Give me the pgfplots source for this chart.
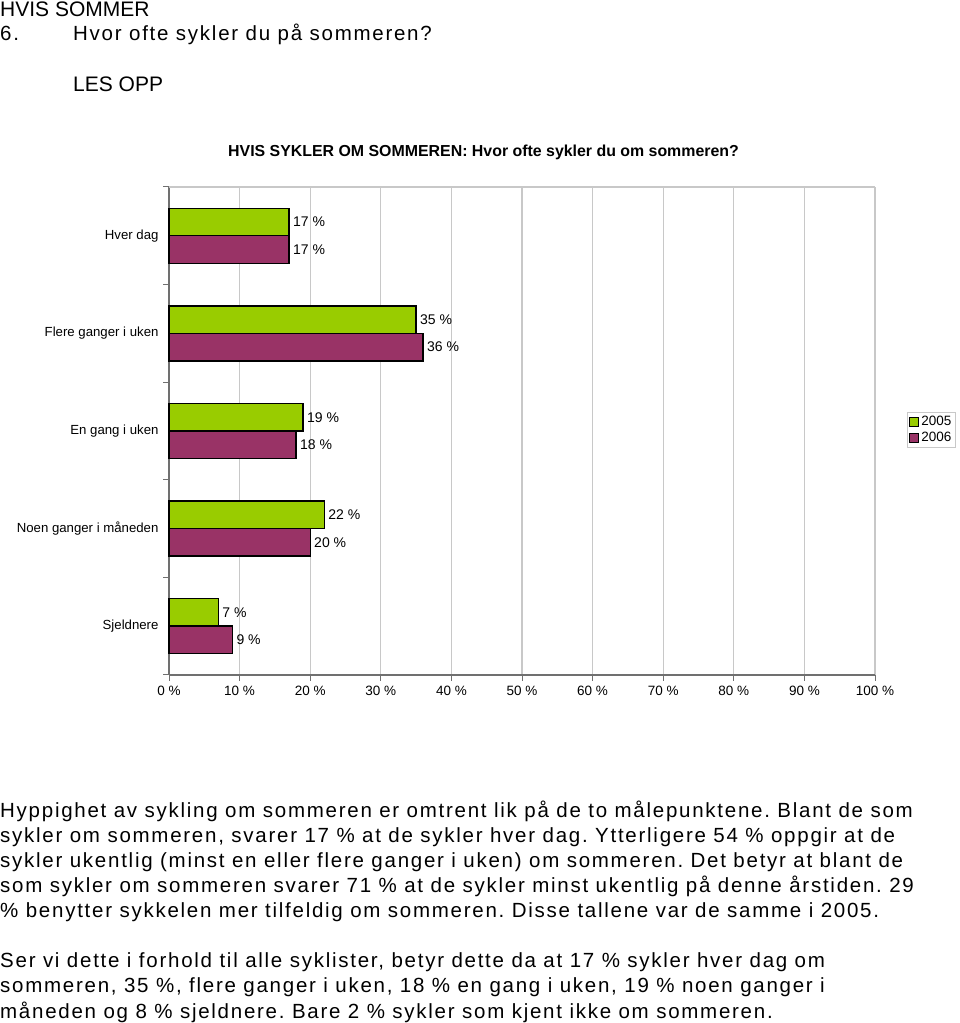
\documentclass[border=0pt]{standalone}
\usepackage{fontspec}
\setmainfont{Liberation Sans}
\newfontfamily\spaced[LetterSpace=8.5]{Liberation Sans}
\usepackage{pgfplots}
\pgfplotsset{compat=1.18}
\definecolor{grn}{HTML}{99CC00}
\definecolor{mar}{HTML}{993366}
\definecolor{axgray}{HTML}{707070}
\definecolor{gridgray}{HTML}{C8C8C8}
\frenchspacing

\begin{document}
\begin{tikzpicture}[x=1pt,y=1pt]
\useasboundingbox (0,0) rectangle (960,1023);

% header
\node[anchor=base west,inner sep=0] at (0,1006) {\fontsize{21}{24}\selectfont HVIS SOMMER};
\node[anchor=base west,inner sep=0] at (0,982) {\fontsize{20.5}{24}\spaced 6.};
\node[anchor=base west,inner sep=0] at (73,982) {\fontsize{20.5}{24}\spaced Hvor ofte sykler du på sommeren?};
\node[anchor=base west,inner sep=0] at (73,931) {\fontsize{21}{24}\selectfont LES OPP};
\node[anchor=base,inner sep=0] at (483.5,866) {\fontsize{15.9}{18}\selectfont\bfseries HVIS SYKLER OM SOMMEREN: Hvor ofte sykler du om sommeren?};

\begin{axis}[
  at={(169pt,348pt)}, anchor=south west,
  scale only axis, width=706pt, height=488pt,
  xbar, bar width=27.5pt,
  xmin=0, xmax=100, ymin=-0.5, ymax=4.5,
  axis x line*=bottom, axis y line*=left,
  axis line style={axgray, line width=1.3pt, -},
  /pgf/number format/assume math mode=true,
  xtick={0,10,...,100},
  xticklabels={0 \%,10 \%,20 \%,30 \%,40 \%,50 \%,60 \%,70 \%,80 \%,90 \%,100 \%},
  ytick={-0.5,0.5,1.5,2.5,3.5,4.5},
  y tick label as interval,
  yticklabels={Sjeldnere,Noen ganger i måneden,En gang i uken,Flere ganger i uken,Hver dag},
  xticklabel style={font=\fontsize{13.5}{16}\selectfont, yshift=-2pt},
  yticklabel style={font=\fontsize{13.2}{16}\selectfont, xshift=-1pt},
  tick style={axgray, line width=1pt},
  tick align=outside, major tick length=6pt,
  xmajorgrids, grid style={gridgray, line width=1.2pt},
  nodes near coords={\pgfmathprintnumber{\pgfplotspointmeta}\ \%},
  point meta=x,
  every node near coord/.append style={font=\fontsize{14}{16}\selectfont, black},
  legend style={at={(1.045,0.539)}, anchor=north west, draw=gridgray, line width=1pt,
    font=\fontsize{13.5}{16}\selectfont, inner sep=2pt, row sep=1pt,
    cells={anchor=west}},
  legend image code/.code={\draw[#1, draw=black, line width=1pt] (0pt,-4.5pt) rectangle (9pt,4.5pt);},
  clip=false,
]
\addplot[fill=grn, draw=black, line width=1.4pt, bar shift=13.75pt]
  coordinates {(17,4) (35,3) (19,2) (22,1) (7,0)};
\addlegendentry{2005}
\addplot[fill=mar, draw=black, line width=1.4pt, bar shift=-13.75pt]
  coordinates {(17,4) (36,3) (18,2) (20,1) (9,0)};
\addlegendentry{2006}
\draw[gridgray, line width=1.2pt] (rel axis cs:0,1) -- (rel axis cs:1,1);
\end{axis}

% text below the chart
\begin{scope}[every node/.style={anchor=base west,inner sep=0,font=\fontsize{20.5}{24}\spaced}]
\node at (0,205) {Hyppighet av sykling om sommeren er omtrent lik på de to målepunktene. Blant de som};
\node at (0,180) {sykler om sommeren, svarer 17 \% at de sykler hver dag. Ytterligere 54 \% oppgir at de};
\node at (0,155) {sykler ukentlig (minst en eller flere ganger i uken) om sommeren. Det betyr at blant de};
\node at (0,130) {som sykler om sommeren svarer 71 \% at de sykler minst ukentlig på denne årstiden. 29};
\node at (0,105) {\% benytter sykkelen mer tilfeldig om sommeren. Disse tallene var de samme i 2005.};
\node at (0,55) {Ser vi dette i forhold til alle syklister, betyr dette da at 17 \% sykler hver dag om};
\node at (0,30) {sommeren, 35 \%, flere ganger i uken, 18 \% en gang i uken, 19 \% noen ganger i};
\node at (0,5) {måneden og 8 \% sjeldnere. Bare 2 \% sykler som kjent ikke om sommeren.};
\end{scope}
\end{tikzpicture}
\end{document}
